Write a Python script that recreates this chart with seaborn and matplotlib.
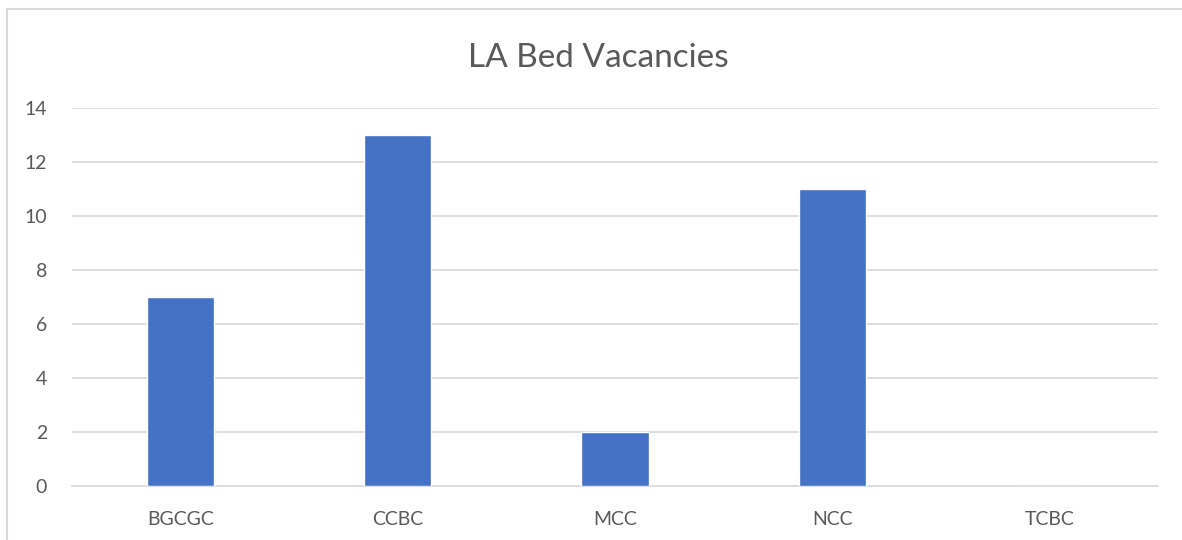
import matplotlib
matplotlib.use("Agg")
import matplotlib.pyplot as plt
from matplotlib.lines import Line2D
import seaborn as sns
import pandas as pd

# Chart values
councils = ['BGCGC', 'CCBC', 'MCC', 'NCC', 'TCBC']
vacancies = [7, 13, 2, 11, 0]
y_ticks = [0, 2, 4, 6, 8, 10, 12, 14]

df = pd.DataFrame({'Council': councils, 'Vacancies': vacancies})

sns.set_theme(style='white')
plt.rcParams['font.family'] = ['Lato', 'DejaVu Sans']

text_color = '#595959'
grid_color = '#D9D9D9'

fig = plt.figure(figsize=(11.82, 5.40), dpi=100)
ax = fig.add_axes([72 / 1182, 54 / 540, 1086 / 1182, 378 / 540])

sns.barplot(data=df, x='Council', y='Vacancies', color='#4472C4',
            width=0.31, saturation=1, ax=ax, zorder=3)

ax.set_xlim(-0.5, len(councils) - 0.5)
ax.set_ylim(0, 14)
ax.set_yticks(y_ticks)
ax.yaxis.grid(True, color=grid_color, linewidth=1.2, zorder=0)
ax.set_axisbelow(True)
for side in ['top', 'right', 'left']:
    ax.spines[side].set_visible(False)
ax.spines['bottom'].set_color(grid_color)
ax.spines['bottom'].set_linewidth(1.2)

ax.set_xlabel('')
ax.set_ylabel('')
ax.tick_params(axis='both', length=0, labelsize=14, colors=text_color)
ax.tick_params(axis='x', pad=18)
ax.tick_params(axis='y', pad=18)

fig.suptitle('LA Bed Vacancies', x=0.506, y=0.92, fontsize=24, color=text_color)

# Chart area frame (left and top edges visible in the reference)
fig.add_artist(Line2D([7 / 1182, 1.0], [1 - 9 / 540, 1 - 9 / 540],
                      transform=fig.transFigure, color=grid_color, linewidth=1.5))
fig.add_artist(Line2D([7 / 1182, 7 / 1182], [0, 1 - 9 / 540],
                      transform=fig.transFigure, color=grid_color, linewidth=1.5))

fig.savefig('out.png', dpi=100, facecolor='white')
